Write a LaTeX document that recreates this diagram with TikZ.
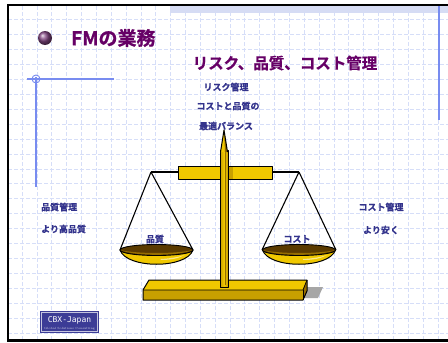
\documentclass[tikz,border=0pt]{standalone}
\usepackage{fontspec}
\newfontfamily\jp{Noto Sans CJK JP}[BoldFont={Noto Sans CJK JP Bold}, BoldFeatures={FakeBold=0.8}]
\newfontfamily\logofont{DejaVu Sans Mono}
\usetikzlibrary{calc}
\definecolor{titlepurple}{RGB}{102,0,102}
\definecolor{labelnavy}{RGB}{51,51,140}
\definecolor{gridblue}{RGB}{214,222,248}
\definecolor{decoblue}{RGB}{120,140,240}
\definecolor{bandblue}{RGB}{214,220,244}
\definecolor{gold}{RGB}{240,200,0}
\definecolor{golddark}{RGB}{200,160,0}
\definecolor{golddeep}{RGB}{150,110,0}
\definecolor{panbrown}{RGB}{90,58,0}
\definecolor{logoblue}{RGB}{60,60,150}
\tikzset{
  gridline/.style={gridblue, line width=0.6pt, dash pattern=on 4pt off 2pt},
  label/.style={font=\jp\bfseries\fontsize{9}{10}\selectfont, text=labelnavy, inner sep=0pt},
  cord/.style={black, line width=1.1pt},
  metal/.style={draw=black, line width=1pt, line join=round},
}
\begin{document}
\begin{tikzpicture}[x=1pt, y=-1pt]
\useasboundingbox (0,0) rectangle (448,343);
\fill[white] (0,0) rectangle (448,343);

% background grid
\foreach \i in {0,...,28} {
  \draw[gridline] ({22+14.85*\i},6) -- ({22+14.85*\i},340);
}
\foreach \j in {0,...,21} {
  \draw[gridline] (8,{19.5+14.93*\j}) -- (448,{19.5+14.93*\j});
}

% textured band under the top edge
\fill[bandblue] (170,6) rectangle (448,13);

% slide frame
\draw[black, line width=2.2pt] (448,5) -- (8,5) -- (8,340.5) -- (448,340.5);

% blue corner ornaments
\draw[decoblue, line width=1.2pt] (27,79) -- (114,79);
\draw[decoblue, line width=1.2pt] (36,77) -- (36,187);
\draw[decoblue, line width=0.9pt] (36,79) circle (4);
\draw[decoblue, line width=1.2pt] (439,6) -- (439,120);

% title bullet and headings
\shade[ball color={rgb,255:red,130;green,70;blue,130}] (45,38) circle (7);
\node[anchor=west, inner sep=0pt, text=titlepurple, font=\jp\bfseries\fontsize{19}{21}\selectfont] (title) at (71,38) {FMの業務};
\node[anchor=center, inner sep=0pt, text=titlepurple, font=\jp\bfseries\fontsize{15.5}{17}\selectfont] (subtitle) at (285,63) {リスク、品質、コスト管理};

% labels
\node[label] (risk) at (226,87) {リスク管理};
\node[label] (balance1) at (228,106) {コストと品質の};
\node[label] (balance2) at (226,126) {最適バランス};
\node[label, anchor=west] (qual1) at (41,207) {品質管理};
\node[label, anchor=west] (qual2) at (41,229) {より高品質};
\node[label] (cost1) at (381,207) {コスト管理};
\node[label] (cost2) at (381,230) {より安く};

% ---- balance scale ----
% shadow of the base
\fill[gray!70] (305,287) -- (323,287) -- (318,298) -- (303,298) -- cycle;
% base slab
\fill[gold] (143,290) -- (149,280) -- (307,280) -- (303,290) -- cycle;
\fill[golddark] (143,290) rectangle (303,300);
\fill[golddeep] (303,290) -- (307,280) -- (307,291) -- (303,300) -- cycle;
\draw[metal] (143,290) -- (149,280) -- (307,280) -- (307,291) -- (303,300) -- (143,300) -- cycle;
\draw[black, line width=0.8pt] (143,290) -- (303,290) -- (307,280);
\draw[black, line width=0.8pt] (303,290) -- (303,300);

% hanging points and cords
\coordinate (lhook) at (151,172);
\coordinate (rhook) at (299,172);
\coordinate (lrimL) at (120,250);
\coordinate (lrimR) at (193,250);
\coordinate (rrimL) at (262,250);
\coordinate (rrimR) at (336,250);
\draw[cord] (lhook) -- (178,172);
\draw[cord] (rhook) -- (272,172);
\draw[cord] (lhook) -- (lrimL);
\draw[cord] (lhook) -- (lrimR);
\draw[cord] (rhook) -- (rrimL);
\draw[cord] (rhook) -- (rrimR);

% pans
\foreach \c in {156.5, 299} {
  \fill[gold] ({\c-36.5},250) .. controls ({\c-30},269) and ({\c+30},269) .. ({\c+36.5},250) -- cycle;
  \draw[metal] ({\c-36.5},250) .. controls ({\c-30},269) and ({\c+30},269) .. ({\c+36.5},250);
  \fill[white, opacity=0.55] ({\c+4},259) .. controls ({\c+14},258.5) and ({\c+22},257) .. ({\c+28},255) .. controls ({\c+22},258.5) and ({\c+14},260) .. ({\c+4},260) -- cycle;
  \fill[panbrown] (\c,250) ellipse (36.5 and 5.5);
  \fill[golddeep] ({\c-36.5},250) .. controls ({\c-20},256.5) and ({\c+20},256.5) .. ({\c+36.5},250) .. controls ({\c+20},254) and ({\c-20},254) .. ({\c-36.5},250) -- cycle;
  \draw[black, line width=0.9pt] (\c,250) ellipse (36.5 and 5.5);
}
\node[label] (panq) at (155,239) {品質};
\node[label] (panc) at (297,239) {コスト};

% beam
\fill[gold] (178,166) rectangle (272,179);
\fill[golddark] (228,166) rectangle (233,179);
\draw[metal] (178,166) rectangle (272,179);

% pole and pointer
\shade[left color=golddark, right color=golddark, middle color=gold] (220,150) rectangle (228,287);
\draw[metal] (220,150) rectangle (228,287);
\draw[golddeep, line width=0.6pt] (225.5,152) -- (225.5,285);
\fill[gold] (220.5,152) -- (224,130) -- (227.5,152) -- cycle;
\fill[golddeep] (224,130) -- (227.5,152) -- (225,152) -- cycle;
\draw[metal] (220.5,152) -- (224,130) -- (227.5,152);

% logo
\fill[logoblue] (40,311) rectangle (99,333);
\draw[white!70!logoblue, line width=0.5pt] (41.5,312.5) rectangle (97.5,331.5);
\node[inner sep=0pt, text=white, font=\logofont\fontsize{8}{9}\selectfont] (logo) at (69.5,320) {CBX-Japan};
\node[inner sep=0pt, text=white!80!logoblue, font=\fontsize{3}{3.5}\selectfont] (logosub) at (69.5,328.5) {Global Solutions Consulting};
\end{tikzpicture}
\end{document}
